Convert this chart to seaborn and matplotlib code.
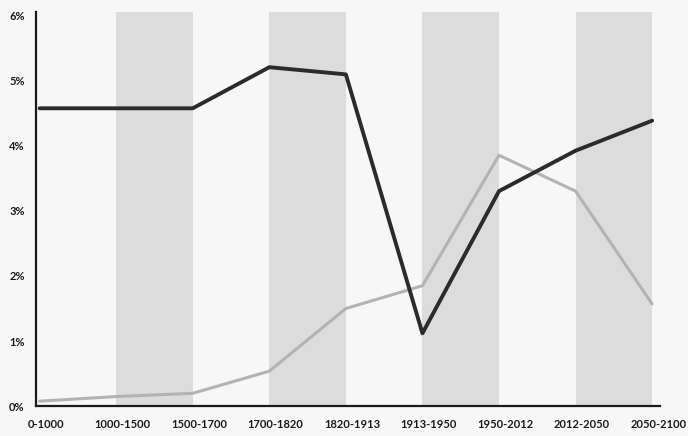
import matplotlib
matplotlib.use("Agg")
import matplotlib.pyplot as plt
import numpy as np
import pandas as pd
import seaborn as sns

periods = ["0-1000", "1000-1500", "1500-1700", "1700-1820", "1820-1913",
           "1913-1950", "1950-2012", "2012-2050", "2050-2100"]
# return on capital (after tax) and growth of world output, in %
return_rate = [4.57, 4.57, 4.57, 5.2, 5.09, 1.12, 3.3, 3.92, 4.38]
growth_rate = [0.08, 0.15, 0.2, 0.54, 1.5, 1.85, 3.85, 3.3, 1.57]
shaded = [(1, 2), (3, 4), (5, 6), (7, 8)]

sns.set_theme(style="white")
plt.rcParams['font.family'] = ['Lato', 'DejaVu Sans']

df = pd.DataFrame({
    "pos": list(range(len(periods))) * 2,
    "value": return_rate + growth_rate,
    "series": ["return"] * len(periods) + ["growth"] * len(periods),
})

fig = plt.figure(figsize=(6.88, 4.36), dpi=100, facecolor="#f7f7f7")
ax = fig.add_axes([0.052, 0.068, 0.907, 0.905])
ax.set_facecolor("#f7f7f7")

for a, b in shaded:
    ax.axvspan(a, b, color="#dcdcdc", lw=0, zorder=0)

sns.lineplot(data=df, x="pos", y="value", hue="series",
             palette={"return": "#2b2b2b", "growth": "#b3b3b3"},
             hue_order=["growth", "return"], linewidth=2.4,
             legend=False, ax=ax)
for line, w in zip(ax.lines, [2.2, 2.8]):
    line.set_linewidth(w)

ax.set_xlim(-0.05, 8.1)
ax.set_ylim(0, 6.05)
# labels sit a little right of the data points in the original
ax.set_xticks(np.arange(len(periods)) + 0.08)
ax.set_xticklabels(periods)
ax.set_yticks(range(7))
ax.set_yticklabels([f"{i}%" for i in range(7)])
ax.tick_params(axis="both", length=0, labelsize=8, colors="#1a1a1a")
for lab in ax.get_xticklabels() + ax.get_yticklabels():
    lab.set_fontweight("bold")
ax.tick_params(axis="x", pad=9)
ax.tick_params(axis="y", pad=8)
ax.set_xlabel("")
ax.set_ylabel("")
sns.despine(ax=ax)
for s in ["left", "bottom"]:
    ax.spines[s].set_color("#1a1a1a")
    ax.spines[s].set_linewidth(1.6)

fig.savefig("out.png", dpi=100, facecolor=fig.get_facecolor())
